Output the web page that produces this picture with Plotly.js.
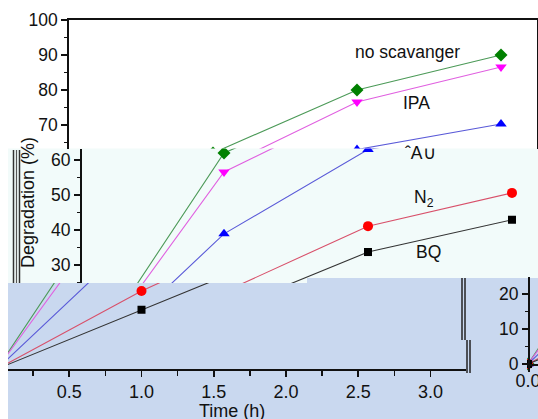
<!DOCTYPE html>
<html><head><meta charset="utf-8">
<script src="https://cdn.plot.ly/plotly-3.0.1.min.js"></script>
<style>html,body{margin:0;padding:0;background:#fff}#chart{width:538px;height:419px}</style>
</head><body><div id="chart"></div>
<script>
// ---- data ----
const times = [0, 1, 2, 3];
const noScavenger = [0, 62.0, 80.0, 90.0];
const ipa = [0, 56.6, 76.6, 86.6];
const ao = [0, 38.9, 63.0, 70.3];
const n2 = [0, 22.3, 41.1, 50.6];
const bq = [0, 16.9, 33.7, 42.9];
const seriesLabels = ['no scavanger', 'IPA', 'ˆA∪', 'N<sub>2</sub>', 'BQ'];
const yTicksTop = [70, 80, 90, 100];
const yTicksMid = [30, 40, 50, 60];
const xTicks = [0.5, 1, 1.5, 2, 2.5, 3];
const xTickText = ['0.5', '1.0', '1.5', '2.0', '2.5', '3.0'];
const yTicksRight = [0, 10, 20];
const xTicksRight = [0];
const xTickTextRight = ['0.0'];
const yTitle = 'Degradation (%)';
const xTitle = 'Time (h)';

// ---- layout helpers ----
const W = 538, H = 419;
const px = x => x / W;
const py = y => 1 - y / H;
const FONT = 'Liberation Sans, Arial, sans-serif';
const tickFont = {family: FONT, size: 17.5, color: '#111'};
const AX = '#111';

const seriesValues = [noScavenger, ipa, ao, n2, bq];
const styles = [
  {symbol: 'diamond', mc: '#008000', lc: '#4c9a58', size: 10},
  {symbol: 'triangle-down', mc: '#ff00ff', lc: '#e060e0', size: 10},
  {symbol: 'triangle-up', mc: '#0000ff', lc: '#5a5ad8', size: 10},
  {symbol: 'circle', mc: '#ff0000', lc: '#d8506a', size: 10},
  {symbol: 'square', mc: '#000000', lc: '#333333', size: 8}
];

const subplots = [['x', 'y'], ['x2', 'y2'], ['x3', 'y3'], ['x4', 'y4']];
const traces = [];
subplots.forEach(([xa, ya]) => {
  seriesValues.forEach((vals, i) => {
    const s = styles[i];
    traces.push({
      x: times, y: vals, xaxis: xa, yaxis: ya, type: 'scatter', mode: 'lines+markers',
      line: {color: s.lc, width: 1.1},
      marker: {symbol: s.symbol, color: s.mc, size: s.size},
      showlegend: false, hoverinfo: 'skip'
    });
  });
});

function yAx(extra) {
  return Object.assign({
    showline: true, linecolor: AX, linewidth: 1.8, ticks: 'outside', ticklen: 6, tickwidth: 1.6,
    tickcolor: AX, showgrid: false, zeroline: false, tickfont: tickFont, automargin: false,
    ticklabeloverflow: 'allow',
    minor: {dtick: 5, tick0: 0, ticks: 'outside', ticklen: 3, tickwidth: 1.4, tickcolor: AX, showgrid: false}
  }, extra);
}

const layout = {
  width: W, height: H,
  margin: {l: 0, r: 0, t: 0, b: 0, pad: 0},
  paper_bgcolor: '#ffffff', plot_bgcolor: 'rgba(0,0,0,0)',
  showlegend: false, hovermode: false,
  font: {family: FONT, color: '#111'},
  // top region
  xaxis: {domain: [px(69), px(537)], range: [0, 3.25], anchor: 'y', side: 'top', showline: true,
    linecolor: AX, linewidth: 1.8, ticks: '', showticklabels: false, showgrid: false, zeroline: false},
  yaxis: yAx({domain: [py(148.5), py(20)], range: [63.29, 100], anchor: 'x', tickvals: yTicksTop, mirror: true}),
  // light cyan band
  xaxis2: {domain: [px(8), 1], range: [-0.5, 3.1806], anchor: 'y2', visible: false},
  yaxis2: yAx({domain: [py(283), py(148.5)], range: [24.857, 63.29], anchor: 'free', position: px(80), tickvals: yTicksMid}),
  // blue band
  xaxis3: {domain: [px(8), px(465.5)], range: [0.0761, 3.2422], anchor: 'free', position: 1 - 369 / H,
    tickvals: xTicks, ticktext: xTickText, showline: true, linecolor: AX, linewidth: 1.8,
    ticks: 'outside', ticklen: 6, tickwidth: 1.6, tickcolor: AX, showgrid: false, zeroline: false,
    tickfont: {family: FONT, size: 18, color: '#111'}, automargin: false, ticklabeloverflow: 'allow',
    minor: {dtick: 0.25, tick0: 0, ticks: 'outside', ticklen: 5, tickwidth: 1.4, tickcolor: AX, showgrid: false}},
  yaxis3: {domain: [0, py(283)], range: [-14.286, 24.571], anchor: 'x3', visible: false},
  // right fragment
  xaxis4: {domain: [px(527), 1], range: [-0.0069, 0.0692], anchor: 'free', position: 1 - 364 / H,
    tickvals: xTicksRight, ticktext: xTickTextRight, showline: true, linecolor: AX, linewidth: 1.8,
    ticks: '', showgrid: false, zeroline: false, tickfont: {family: FONT, size: 18, color: '#111'},
    automargin: false, ticklabeloverflow: 'allow'},
  yaxis4: yAx({domain: [py(372), py(277)], range: [-2.2857, 24.857], anchor: 'free', position: px(528), tickvals: yTicksRight}),
  shapes: [
    {type: 'rect', xref: 'paper', yref: 'paper', x0: px(8), x1: 1, y0: py(283), y1: py(148.5), fillcolor: '#f2fbfa', line: {width: 0}, layer: 'below'},
    {type: 'rect', xref: 'paper', yref: 'paper', x0: px(8), x1: 1, y0: 0, y1: py(283), fillcolor: '#c9d8ef', line: {width: 0}, layer: 'below'},
    {type: 'rect', xref: 'paper', yref: 'paper', x0: px(307), x1: 1, y0: py(283), y1: py(278), fillcolor: '#c9d8ef', line: {width: 0}, layer: 'below'},
    {type: 'line', xref: 'paper', yref: 'paper', x0: px(13.5), x1: px(13.5), y0: py(283), y1: py(150), line: {color: '#333', width: 1.5}},
    {type: 'line', xref: 'paper', yref: 'paper', x0: px(16.5), x1: px(16.5), y0: py(283), y1: py(150), line: {color: '#555', width: 1.2}},
    {type: 'line', xref: 'paper', yref: 'paper', x0: px(19.5), x1: px(19.5), y0: py(283), y1: py(150), line: {color: '#333', width: 1.5}},
    {type: 'line', xref: 'paper', yref: 'paper', x0: px(462), x1: px(462), y0: py(340), y1: py(278), line: {color: '#222', width: 1.5}},
    {type: 'line', xref: 'paper', yref: 'paper', x0: px(465), x1: px(465), y0: py(340), y1: py(278), line: {color: '#222', width: 1.5}},
    {type: 'line', xref: 'paper', yref: 'paper', x0: px(467), x1: px(467), y0: py(373), y1: py(340), line: {color: '#222', width: 1.5}},
    {type: 'line', xref: 'paper', yref: 'paper', x0: px(470), x1: px(470), y0: py(373), y1: py(340), line: {color: '#222', width: 1.5}}
  ],
  annotations: [
    {text: seriesLabels[0], x: px(407), y: py(52)},
    {text: seriesLabels[1], x: px(416), y: py(103)},
    {text: seriesLabels[2], x: px(420), y: py(153)},
    {text: seriesLabels[3], x: px(423.5), y: py(198)},
    {text: seriesLabels[4], x: px(428), y: py(252)},
    {text: yTitle, x: px(28), y: py(203), textangle: -90, font: {family: FONT, size: 18, color: '#111'}},
    {text: xTitle, x: px(232), y: py(411), font: {family: FONT, size: 18, color: '#111'}}
  ].map(a => Object.assign({xref: 'paper', yref: 'paper', showarrow: false, xanchor: 'center', yanchor: 'middle',
    font: {family: FONT, size: 17.5, color: '#111'}}, a))
};

Plotly.newPlot('chart', traces, layout, {staticPlot: true, displayModeBar: false});
</script>
</body></html>
